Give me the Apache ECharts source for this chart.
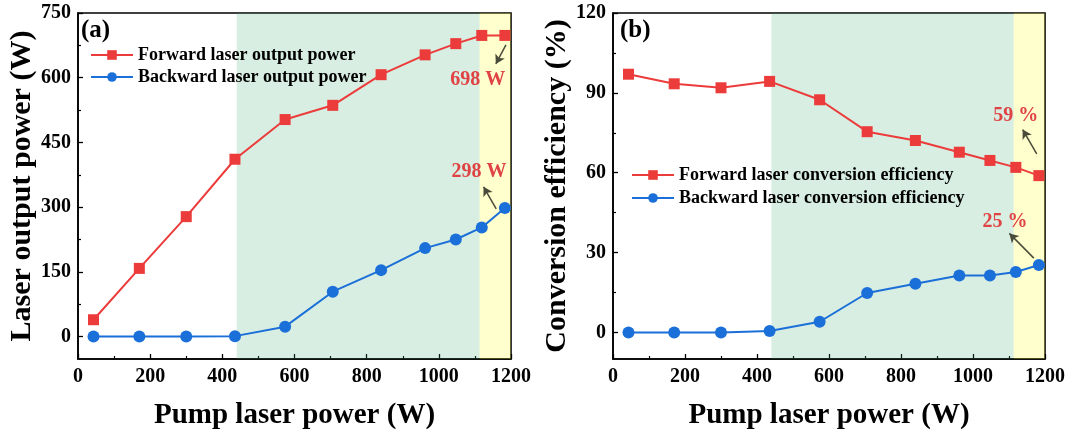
<!DOCTYPE html>
<html>
<head>
<meta charset="utf-8">
<script src="https://cdn.jsdelivr.net/npm/echarts@6/dist/echarts.min.js"></script>
<style>html,body{margin:0;padding:0;background:#fff;}#c{width:1072px;height:435px;}</style>
</head>
<body>
<div id="c"></div>
<script>
// ---- data ----
const pumpPower = [43, 170, 300, 435, 574, 706, 840, 962, 1047, 1119, 1183];
const forwardPower = [39, 158, 278, 411, 503, 536, 607, 653, 679, 698, 698];
const backwardPower = [0, 0, 0, 1, 23, 104, 154, 205, 225, 253, 298];
const forwardEff = [97.0, 93.4, 91.9, 94.3, 87.4, 75.4, 72.1, 67.7, 64.6, 62.0, 58.9];
const backwardEff = [0, 0, 0, 0.5, 4.0, 14.8, 18.3, 21.4, 21.4, 22.7, 25.3];
const powerTicks = [0, 150, 300, 450, 600, 750];
const powerMinor = [75, 225, 375, 525, 675];
const effTicks = [0, 30, 60, 90, 120];
const effMinor = [15, 45, 75, 105];
const greenBand = [440, 1113];
const yellowBand = [1113, 1200];
const names = {
  fp: 'Forward laser output power', bp: 'Backward laser output power',
  fe: 'Forward laser conversion efficiency', be: 'Backward laser conversion efficiency'
};
// annotations: [text, x, y] and arrows [x1,y1,x2,y2] (tail -> head), in data units
const annPower = [['698 W', 1108, 595], ['298 W', 1111, 383]];
const arrPower = [[1186, 676, 1158, 632], [1159, 296, 1124, 347]];
const annEff = [['59 %', 1119, 81.3], ['25 %', 1089, 41.4]];
const arrEff = [[1177, 67.1, 1138, 76.2], [1169, 27.9, 1101, 37.2]];

const FONT = "'Liberation Serif','Times New Roman',serif";
const RED = '#ec3b3b', BLUE = '#1b6fd8', ANN = '#e04343', ARROW = '#4a4a3a';
const zip = (xs, ys) => xs.map((x, i) => [x, ys[i]]);

function xAxisDef(gi) {
  return {
    type: 'value', gridIndex: gi, min: 0, max: 1200, interval: 200,
    axisLine: { show: true, onZero: false, lineStyle: { color: '#000', width: 1.6 } },
    axisTick: { show: true, inside: true, length: 5, lineStyle: { color: '#000', width: 1.3 } },
    minorTick: { show: true, splitNumber: 2, length: 3, lineStyle: { color: '#000', width: 1.2 } },
    axisLabel: { color: '#000', fontFamily: FONT, fontWeight: 'bold', fontSize: 20, margin: 8, formatter: v => String(v) },
    splitLine: { show: false },
    name: 'Pump laser power (W)', nameLocation: 'middle', nameGap: 42,
    nameTextStyle: { color: '#000', fontFamily: FONT, fontWeight: 'bold', fontSize: 29 }
  };
}
function yAxisDef(gi, min, max, ticks, title, gap) {
  return {
    type: 'value', gridIndex: gi, min: min, max: max,
    axisLine: { show: true, onZero: false, lineStyle: { color: '#000', width: 1.6 } },
    axisTick: { show: true, inside: true, length: 5, customValues: ticks, lineStyle: { color: '#000', width: 1.3 } },
    axisLabel: { color: '#000', fontFamily: FONT, fontWeight: 'bold', fontSize: 20, margin: 7, customValues: ticks },
    splitLine: { show: false },
    name: title, nameLocation: 'middle', nameGap: gap, nameRotate: 90,
    nameTextStyle: { color: '#000', fontFamily: FONT, fontWeight: 'bold', fontSize: 30 }
  };
}
function yMinorDef(gi, min, max, ticks) {
  return {
    type: 'value', gridIndex: gi, min: min, max: max, position: 'left',
    axisLine: { show: false, onZero: false },
    axisTick: { show: true, inside: true, length: 3, customValues: ticks, lineStyle: { color: '#000', width: 1.2 } },
    axisLabel: { show: false }, splitLine: { show: false }
  };
}
function lineSeries(name, xs, ys, color, symbol, xi, yi) {
  return {
    name: name, type: 'line', xAxisIndex: xi, yAxisIndex: yi, z: 2,
    data: zip(xs, ys), symbol: symbol, symbolSize: symbol === 'rect' ? 11 : 12,
    lineStyle: { color: color, width: 2 }, itemStyle: { color: color },
    emphasis: { disabled: true }, animation: false
  };
}
function bandSeries(xi, yi) {
  return {
    name: 'bands' + xi, type: 'line', xAxisIndex: xi, yAxisIndex: yi, data: [], z: 3,
    silent: true, animation: false,
    markArea: {
      silent: true,
      data: [
        [{ xAxis: greenBand[0], itemStyle: { color: 'rgba(60,170,110,0.2)' } }, { xAxis: greenBand[1] }],
        [{ xAxis: yellowBand[0], itemStyle: { color: 'rgba(255,255,60,0.26)' } }, { xAxis: yellowBand[1] }]
      ]
    }
  };
}
function annSeries(xi, yi, anns, arrs) {
  return {
    name: 'ann' + xi, type: 'line', xAxisIndex: xi, yAxisIndex: yi, data: [], z: 10,
    silent: true, animation: false,
    markPoint: {
      silent: true, symbol: 'circle', symbolSize: 2, itemStyle: { color: 'rgba(0,0,0,0)' },
      label: { show: true, position: 'inside', color: ANN, fontFamily: FONT, fontWeight: 'bold', fontSize: 20, formatter: p => p.name },
      data: anns.map(a => ({ name: a[0], coord: [a[1], a[2]] }))
    },
    markLine: {
      silent: true, symbol: ['none', 'arrow'], symbolSize: [8, 9],
      lineStyle: { color: ARROW, width: 1.5, type: 'solid' }, label: { show: false },
      data: arrs.map(a => [{ coord: [a[0], a[1]] }, { coord: [a[2], a[3]] }])
    }
  };
}
const legendText = { color: '#000', fontFamily: FONT, fontWeight: 'bold', fontSize: 18 };
const chart = echarts.init(document.getElementById('c'), null, { renderer: 'canvas' });
chart.setOption({
  animation: false,
  backgroundColor: '#fff',
  title: [
    { text: '(a)', left: 81, top: 18, padding: 0, textStyle: { color: '#000', fontFamily: FONT, fontWeight: 'bold', fontSize: 25 } },
    { text: '(b)', left: 620, top: 18, padding: 0, textStyle: { color: '#000', fontFamily: FONT, fontWeight: 'bold', fontSize: 25 } }
  ],
  grid: [
    { left: 78, top: 13, width: 433, height: 348, show: true, borderColor: '#000', borderWidth: 1.6, backgroundColor: 'transparent' },
    { left: 613, top: 13, width: 432, height: 348, show: true, borderColor: '#000', borderWidth: 1.6, backgroundColor: 'transparent' }
  ],
  legend: [
    { data: [names.fp, names.bp], orient: 'vertical', left: 90, top: 46, padding: 0, itemWidth: 42, itemHeight: 12, itemGap: 4, textStyle: legendText, z: 12, selectedMode: false },
    { data: [names.fe, names.be], orient: 'vertical', left: 631, top: 166, padding: 0, itemWidth: 42, itemHeight: 12, itemGap: 5, textStyle: legendText, z: 12, selectedMode: false }
  ],
  xAxis: [xAxisDef(0), xAxisDef(1)],
  yAxis: [
    yAxisDef(0, -52, 750, powerTicks, 'Laser output power (W)', 33),
    yAxisDef(1, -10, 120, effTicks, 'Conversion efficiency (%)', 36),
    yMinorDef(0, -52, 750, powerMinor),
    yMinorDef(1, -10, 120, effMinor)
  ],
  series: [
    lineSeries(names.fp, pumpPower, forwardPower, RED, 'rect', 0, 0),
    lineSeries(names.bp, pumpPower, backwardPower, BLUE, 'circle', 0, 0),
    lineSeries(names.fe, pumpPower, forwardEff, RED, 'rect', 1, 1),
    lineSeries(names.be, pumpPower, backwardEff, BLUE, 'circle', 1, 1),
    bandSeries(0, 0), bandSeries(1, 1),
    annSeries(0, 0, annPower, arrPower),
    annSeries(1, 1, annEff, arrEff)
  ]
});
</script>
</body>
</html>
